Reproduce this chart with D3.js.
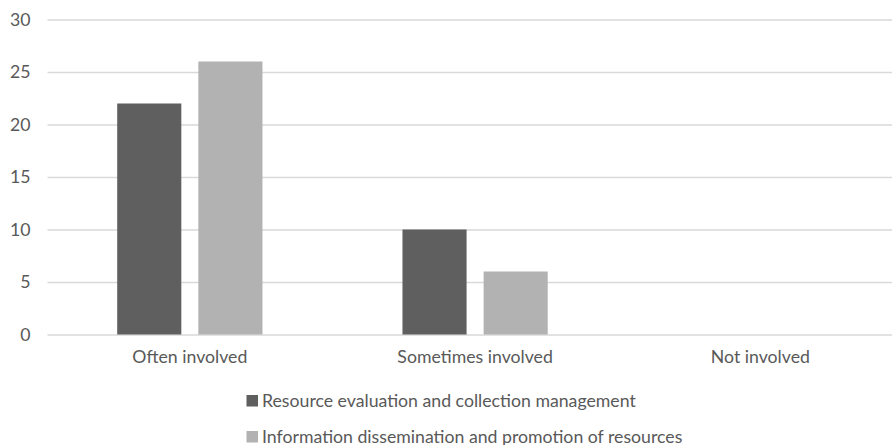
<!DOCTYPE html>
<html><head><meta charset="utf-8">
<script src="https://cdn.jsdelivr.net/npm/d3@7"></script>
<style>body{margin:0;background:#fff}svg{display:block}</style>
</head><body>
<svg id="c" width="892" height="445"></svg>
<script>
const categories = ["Often involved", "Sometimes involved", "Not involved"];
const seriesNames = ["Resource evaluation and collection management", "Information dissemination and promotion of resources"];
const resourceEvaluation = [22, 10, 0];
const infoDissemination = [26, 6, 0];
const yTicks = [0, 5, 10, 15, 20, 25, 30];
const colors = ["#5f5f5f", "#b2b2b2"];

const svg = d3.select("#c");
const font = "Lato, 'Open Sans', sans-serif";
const fs = "17.7px";
const x = d3.scaleBand().domain(categories).range([47.2, 903]).paddingInner(0).paddingOuter(0);
const inner = d3.scaleBand().domain([0,1]).range([70, x.bandwidth()-70]).paddingInner(17/81);
const y = d3.scaleLinear().domain([0, 30]).range([334.5, 19.5]);

// gridlines
const yAxis = d3.axisLeft(y).tickValues(yTicks).tickSize(-(892-47.5)).tickPadding(17);
const g = svg.append("g").attr("transform", "translate(47.5,0)").call(yAxis);
g.select(".domain").remove();
g.selectAll(".tick line").attr("stroke", "#d9d9d9").attr("stroke-width", 1.3);
g.selectAll(".tick text").attr("fill", "#595959").style("font-family", font).style("font-size", fs);

const series = [resourceEvaluation, infoDissemination];
series.forEach((vals, si) => {
  svg.append("g").selectAll("rect").data(categories).join("rect")
    .attr("x", (c) => x(c) + inner(si))
    .attr("width", inner.bandwidth())
    .attr("y", (c, i) => y(vals[i]))
    .attr("height", (c, i) => y(0) - y(vals[i]))
    .attr("fill", colors[si]);
});

// x axis labels
const xAxis = d3.axisBottom(x).tickSize(0).tickPadding(16);
const gx = svg.append("g").attr("transform", "translate(0,334.5)").call(xAxis);
gx.select(".domain").remove();
gx.selectAll(".tick text").attr("fill", "#595959").style("font-family", font).style("font-size", fs);

// legend
const leg = svg.append("g");
seriesNames.forEach((n, i) => {
  const yy = 395 + i * 36;
  leg.append("rect").attr("x", 246.5).attr("y", yy).attr("width", 11.5).attr("height", 11.5).attr("fill", colors[i]);
  leg.append("text").attr("x", 262).attr("y", yy + 11.5).attr("fill", "#595959")
    .style("font-family", font).style("font-size", fs).text(n);
});
</script>
</body></html>
